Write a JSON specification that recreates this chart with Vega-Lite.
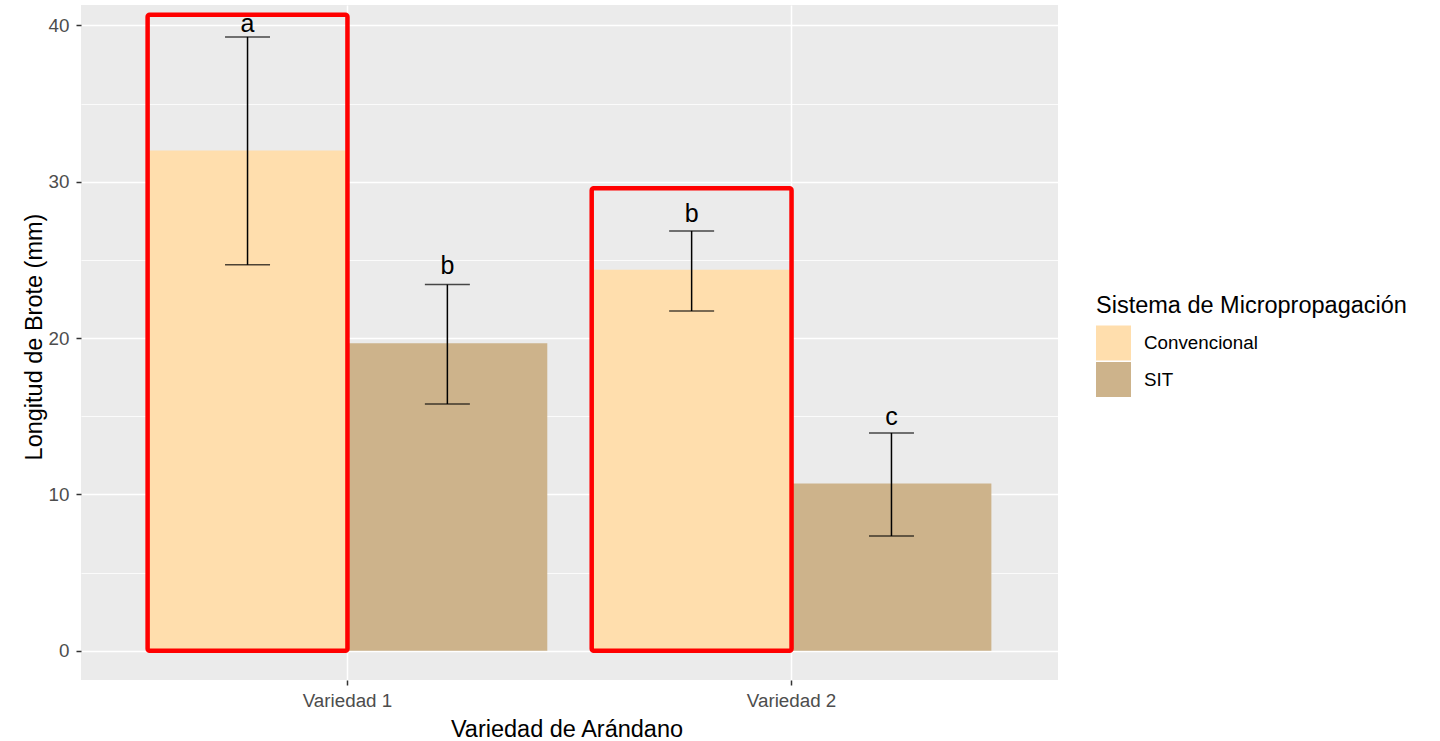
{
  "$schema": "https://vega.github.io/schema/vega-lite/v6.json",
  "width": 977,
  "height": 675,
  "autosize": {"type": "none"},
  "padding": {"left": 81, "top": 5, "right": 382, "bottom": 61},
  "background": "white",
  "config": {
    "font": "Liberation Sans",
    "view": {"fill": "#EBEBEB", "stroke": null},
    "axis": {
      "domain": false,
      "gridColor": "white",
      "labelColor": "#4D4D4D",
      "labelFontSize": 18.8,
      "tickColor": "#333333",
      "tickSize": 5,
      "tickWidth": 1.5,
      "titleColor": "black",
      "titleFontSize": 23.5,
      "titleFontWeight": "normal"
    },
    "legend": {
      "titleFontSize": 23.5,
      "titleFontWeight": "normal",
      "titleColor": "black",
      "titleLimit": 0,
      "labelLimit": 0,
      "labelFontSize": 18.8,
      "labelColor": "black",
      "symbolType": "square",
      "symbolSize": 1225,
      "symbolStrokeWidth": 0,
      "symbolOpacity": 1,
      "rowPadding": 1.5,
      "labelOffset": 13,
      "titlePadding": 8
    }
  },
  "data": {
    "values": [
      {"Variedad": "Variedad 1", "Sistema": "Convencional", "media": 32.0, "lo": 24.68, "hi": 39.26, "letra": "a", "ly": 39.6, "marco": 40.67},
      {"Variedad": "Variedad 1", "Sistema": "SIT", "media": 19.67, "lo": 15.78, "hi": 23.42, "letra": "b", "ly": 24.1, "marco": null},
      {"Variedad": "Variedad 2", "Sistema": "Convencional", "media": 24.36, "lo": 21.73, "hi": 26.85, "letra": "b", "ly": 27.4, "marco": 29.58},
      {"Variedad": "Variedad 2", "Sistema": "SIT", "media": 10.69, "lo": 7.34, "hi": 13.93, "letra": "c", "ly": 14.42, "marco": null}
    ]
  },
  "encoding": {
    "x": {
      "field": "Variedad",
      "type": "nominal",
      "scale": {"paddingInner": 0.1, "paddingOuter": 0.15},
      "axis": {
        "title": "Variedad de Arándano",
        "labelAngle": 0,
        "labelPadding": 6,
        "grid": true,
        "gridWidth": 1.5,
        "titleBaseline": "alphabetic",
        "titleX": 485.5,
        "titleY": 56.5,
        "titleAnchor": null,
        "titleAlign": "center"
      }
    },
    "xOffset": {
      "field": "Sistema",
      "type": "nominal",
      "scale": {"domain": ["Convencional", "SIT"], "paddingInner": 0, "paddingOuter": 0}
    }
  },
  "layer": [
    {
      "mark": {"type": "bar"},
      "encoding": {
        "y": {
          "field": "media",
          "type": "quantitative",
          "scale": {"domain": [-1.87, 41.3], "nice": false, "zero": false},
          "axis": {
            "title": "Longitud de Brote (mm)",
            "values": [0, 5, 10, 15, 20, 25, 30, 35, 40],
            "labelExpr": "datum.value % 10 === 0 ? datum.label : ''",
            "labelPadding": 7,
            "labelBaseline": "middle",
            "tickOpacity": {"condition": {"test": "datum.value % 10 !== 0", "value": 0}, "value": 1},
            "gridWidth": {"condition": {"test": "datum.value % 10 !== 0", "value": 0.8}, "value": 1.5},
            "titleBaseline": "alphabetic",
            "titleX": -39.5,
            "titleY": 331.5,
            "titleAnchor": null,
            "titleAlign": "center"
          }
        },
        "y2": {"datum": 0},
        "color": {
          "field": "Sistema",
          "type": "nominal",
          "scale": {"domain": ["Convencional", "SIT"], "range": ["#FFDEAD", "#CDB38B"]},
          "legend": {
            "title": "Sistema de Micropropagación",
            "orient": "none",
            "legendX": 1015,
            "legendY": 289
          }
        }
      }
    },
    {
      "mark": {"type": "rule", "color": "black", "strokeWidth": 1.5},
      "encoding": {
        "y": {"field": "lo", "type": "quantitative"},
        "y2": {"field": "hi"}
      }
    },
    {
      "mark": {"type": "tick", "color": "black", "thickness": 1.5, "size": 45, "orient": "horizontal"},
      "encoding": {"y": {"field": "hi", "type": "quantitative"}}
    },
    {
      "mark": {"type": "tick", "color": "black", "thickness": 1.5, "size": 45, "orient": "horizontal"},
      "encoding": {"y": {"field": "lo", "type": "quantitative"}}
    },
    {
      "mark": {"type": "text", "fontSize": 25, "baseline": "alphabetic", "align": "center", "color": "black"},
      "encoding": {
        "y": {"field": "ly", "type": "quantitative"},
        "text": {"field": "letra"}
      }
    },
    {
      "transform": [{"filter": "datum.marco != null"}],
      "mark": {"type": "bar", "fill": "transparent", "stroke": "#FF0000", "strokeWidth": 4.5, "cornerRadius": 2},
      "encoding": {
        "y": {"field": "marco", "type": "quantitative"},
        "y2": {"datum": 0}
      }
    }
  ]
}
